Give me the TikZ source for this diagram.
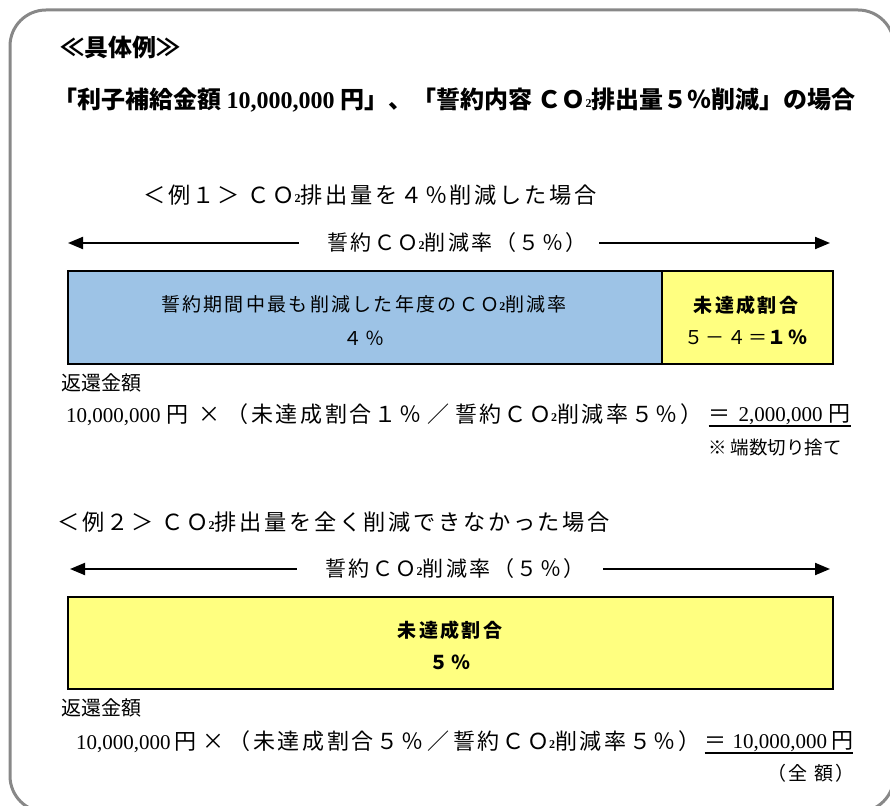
\documentclass[tikz,border=0pt]{standalone}
\usepackage{fontspec}
\usetikzlibrary{arrows.meta}
\setmainfont{Noto Sans CJK JP}
\newfontfamily\jpsp[LetterSpace=12]{Noto Sans CJK JP}
\newfontfamily\lat{Liberation Serif}
\newcommand\cotwo{\raisebox{0.05em}{\fontsize{12}{12}\selectfont\lat\bfseries 2}}
\newcommand\gap[1]{\hspace{#1pt}}
\newcommand\digits[1]{{\lat\fontsize{21}{21}\selectfont #1}}
\definecolor{boxblue}{RGB}{157,195,230}
\definecolor{boxyellow}{RGB}{255,255,128}
\definecolor{framegray}{RGB}{136,136,136}
\tikzset{
  txt/.style={inner sep=0pt, font=\jpsp\fontsize{21}{21}\selectfont},
  fmtxt/.style={inner sep=0pt, font=\jpsp\fontsize{22}{22}\selectfont},
  titletxt/.style={inner sep=0pt, font=\jpsp\fontsize{22.2}{22.2}\selectfont},
  intxt/.style={inner sep=0pt, font=\jpsp\fontsize{19}{19}\selectfont},
  inboldtxt/.style={inner sep=0pt, font=\jpsp\fontsize{19}{19}\selectfont\bfseries},
  labtxt/.style={inner sep=0pt, font=\fontsize{20}{20}\selectfont},
  notetxt/.style={inner sep=0pt, font=\fontsize{18.5}{18.5}\selectfont},
  headtxt/.style={inner sep=0pt, font=\fontsize{24}{24}\selectfont\bfseries},
  span/.style={line width=2pt, -{Triangle[length=15pt,width=12pt]}},
  bar/.style={draw=black, line width=2pt, inner sep=0pt, anchor=north west},
}
\begin{document}
\begin{tikzpicture}[x=1pt,y=-1pt]
\useasboundingbox (0,0) rectangle (890,805);
\draw[framegray, line width=3pt, rounded corners=36pt] (10,10) rectangle (894,812);

\node[headtxt, anchor=west] (h1) at (60,47) {≪具体例≫};
\node[headtxt, anchor=west] (h2) at (53,100) {「利子補給金額 {\lat 10,000,000} 円」、「誓約内容 ＣＯ\cotwo 排出量５％削減」の場合};

% Example 1
\node[titletxt, anchor=west] (e1) at (143,195) {＜例１＞ ＣＯ\cotwo 排出量を４％削減した場合};
\coordinate (a1l) at (68,243);
\coordinate (a1r) at (830,243);
\node[txt] (r1) at (457,243) {誓約ＣＯ\cotwo 削減率（５％）};
\draw[span] ([xshift=-28pt]r1.west) -- (a1l);
\draw[span] ([xshift=12pt]r1.east) -- (a1r);

\node[bar, fill=boxblue, minimum width=594pt, minimum height=93pt] (b1) at (67,270) {};
\node[bar, fill=boxyellow, minimum width=171pt, minimum height=93pt] (y1) at (661,270) {};
\node[intxt] (b1t) at (364,304) {誓約期間中最も削減した年度のＣＯ\cotwo 削減率};
\node[intxt] (b1p) at (364,338) {４％};
\node[inboldtxt] (y1t) at (746,305) {未達成割合};
\node[intxt] (y1p) at (746,337) {５－４＝{\bfseries １％}};

\node[labtxt, anchor=west] (k1) at (61,383) {返還金額};
\node[fmtxt, anchor=west] (f1a) at (66,415) {\digits{10,000,000}\gap{6}円\gap{10}×\gap{6}（未達成割合１％\gap{6}／\gap{6}誓約ＣＯ\cotwo 削減率５％）};
\node[fmtxt, anchor=west] (f1b) at ([xshift=6pt]f1a.east) {＝\gap{8}\digits{2,000,000}\gap{6}円};
\draw[line width=1.8pt] ([yshift=-1pt]f1b.south west) -- ([yshift=-1pt]f1b.south east);
\node[notetxt, anchor=east] (n1) at (842,447) {※ 端数切り捨て};

% Example 2
\node[titletxt, anchor=west] (e2) at (57,522) {＜例２＞ ＣＯ\cotwo 排出量を全く削減できなかった場合};
\coordinate (a2l) at (70,569);
\coordinate (a2r) at (830,569);
\node[txt] (r2) at (455,569) {誓約ＣＯ\cotwo 削減率（５％）};
\draw[span] ([xshift=-28pt]r2.west) -- (a2l);
\draw[span] ([xshift=18pt]r2.east) -- (a2r);

\node[bar, fill=boxyellow, minimum width=765pt, minimum height=92pt] (y2) at (67,596) {};
\node[inboldtxt] (y2t) at (450,630) {未達成割合};
\node[inboldtxt] (y2p) at (450,662) {５％};

\node[labtxt, anchor=west] (k2) at (61,708) {返還金額};
\node[fmtxt, anchor=west] (f2a) at (76,742) {\digits{10,000,000}\gap{4}円\gap{6}×\gap{4}（未達成割合５％\gap{4}／\gap{4}誓約ＣＯ\cotwo 削減率５％）};
\node[fmtxt, anchor=west] (f2b) at ([xshift=4pt]f2a.east) {＝\gap{6}\digits{10,000,000}\gap{4}円};
\draw[line width=1.8pt] ([yshift=-1pt]f2b.south west) -- ([yshift=-1pt]f2b.south east);
\node[txt, anchor=east, font=\jpsp\fontsize{19}{19}\selectfont] (n2) at (855,773) {（全 額）};
\end{tikzpicture}
\end{document}
